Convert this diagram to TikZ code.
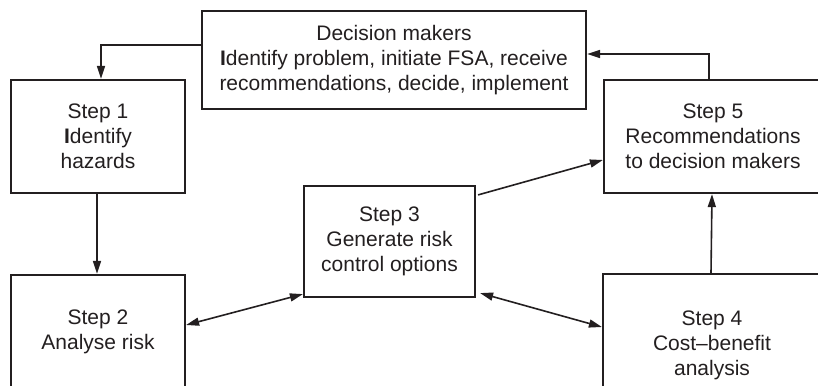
\documentclass[tikz,border=0pt]{standalone}
\usepackage{fontspec}
\setmainfont{Liberation Sans}
\usetikzlibrary{arrows.meta}
\definecolor{ink}{HTML}{231F20}
\begin{document}
\begin{tikzpicture}[x=1pt,y=-1pt,
  box/.style={draw=ink, line width=2.2pt, align=center, text=ink,
    inner sep=0pt, font=\fontsize{21}{25}\selectfont},
  tip/.style={Triangle[length=13pt,width=8pt]},
  link/.style={draw=ink, line width=1.6pt, -{Triangle[length=13pt,width=8pt]}},
  both/.style={link, {Triangle[length=13pt,width=8pt]}-{Triangle[length=13pt,width=8pt]}}]
\clip (0,0) rectangle (818,385);
\fill[white] (0,0) rectangle (818,385);

% boxes
\node[box, minimum width=384pt, minimum height=98pt] (dm) at (394,60)
  {Decision makers\\\textbf{I}dentify problem, initiate FSA, receive\\recommendations, decide, implement};
\node[box, minimum width=174pt, minimum height=113pt] (s1) at (98,136.5)
  {Step 1\\\textbf{I}dentify\\hazards};
\node[box, minimum width=174pt, minimum height=113pt] (s2) at (98,331.5)
  {Step 2\\Analyse risk};
\node[box, minimum width=171pt, minimum height=111pt] (s3) at (389.5,241.5)
  {Step 3\\Generate risk\\control options};
\node[box, minimum width=218pt, minimum height=142pt] (s4) at (712,345)
  {Step 4\\Cost--benefit\\analysis};
\node[box, minimum width=218pt, minimum height=113pt] (s5) at (713,136.5)
  {Step 5\\Recommendations\\to decision makers};

% connectors
\draw[link] ([yshift=15pt]dm.west) -| ([xshift=3pt]s1.north);
\draw[link] ([xshift=-1pt]s1.south) -- ([xshift=-1pt]s2.north);
\draw[both] ([yshift=6.5pt]s2.east) -- ([yshift=4pt]s3.south west);
\draw[both] ([xshift=4pt,yshift=5pt]s3.south east) -- ([yshift=18pt]s4.west);
\draw[link] ([yshift=-10pt,xshift=2pt]s3.north east) -- ([yshift=-23.5pt]s5.west);
\draw[link] ([xshift=-1pt]s4.north) -- ([xshift=-1pt]s5.south);
\draw[link] ([xshift=-4pt]s5.north) |- ([yshift=6pt]dm.east);
\end{tikzpicture}
\end{document}
